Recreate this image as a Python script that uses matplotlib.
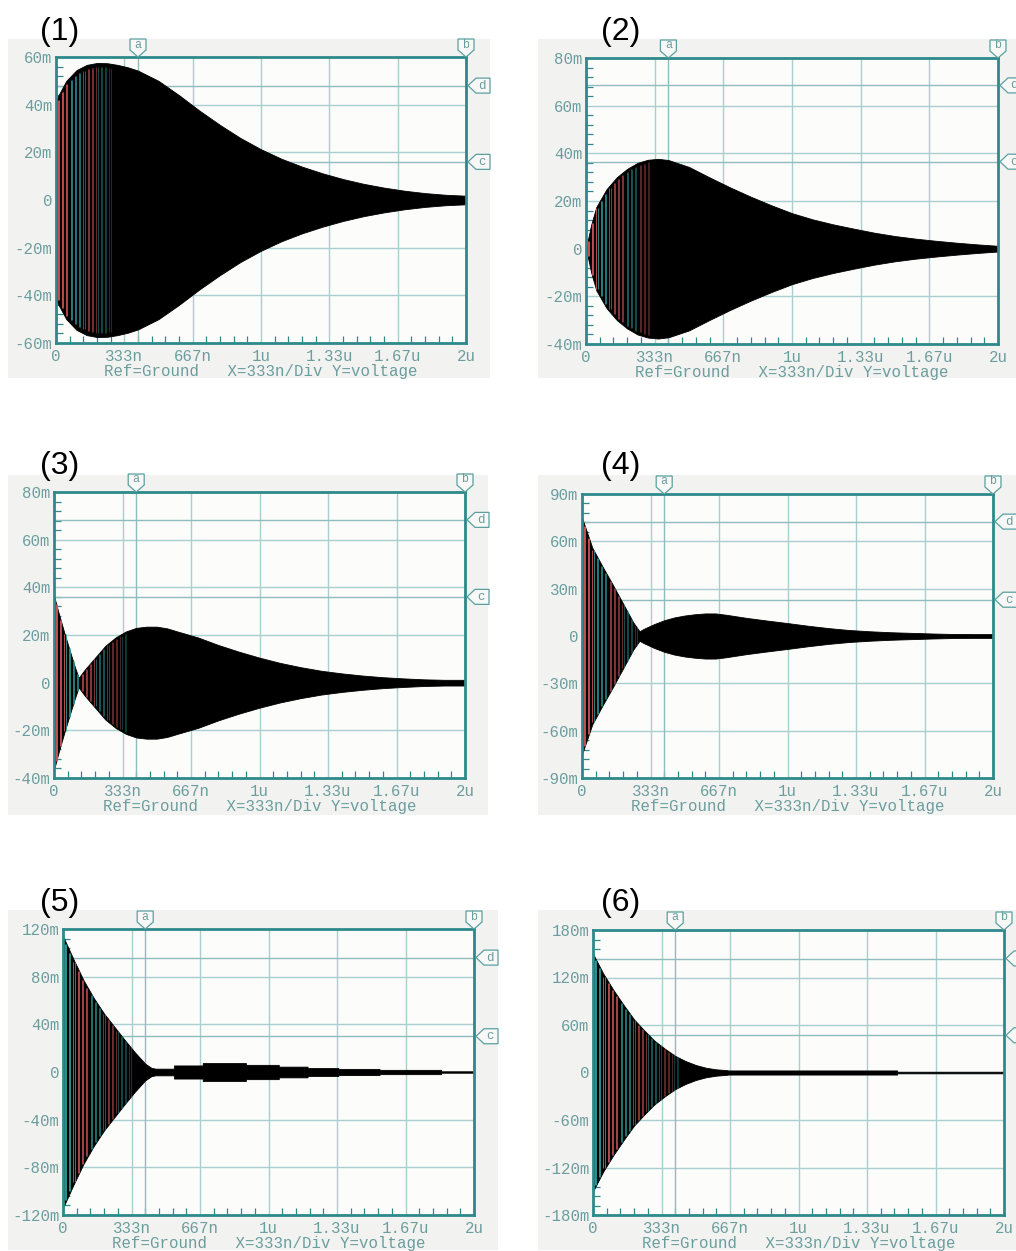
import numpy as np
import matplotlib
matplotlib.use("Agg")
import matplotlib.pyplot as plt
from matplotlib.patches import Polygon, Rectangle
from matplotlib.ticker import FixedLocator, MultipleLocator
from matplotlib.transforms import IdentityTransform
from matplotlib.collections import LineCollection

# ---------------- data (time in µs, amplitude envelope in mV) ----------------
x_ticks = [0, 1 / 3, 2 / 3, 1, 4 / 3, 5 / 3, 2]
x_tick_labels = ["0", "333n", "667n", "1u", "1.33u", "1.67u", "2u"]
axis_caption = "Ref=Ground   X=333n/Div Y=voltage"
panel_names = ["(1)", "(2)", "(3)", "(4)", "(5)", "(6)"]

t1 = [0, 0.05, 0.1, 0.15, 0.2, 0.25, 0.3, 0.35, 0.4, 0.5, 0.6, 0.7, 0.8, 0.9, 1.0,
      1.1, 1.2, 1.3, 1.4, 1.5, 1.6, 1.7, 1.8, 1.9, 2.0]
a1 = [42, 50, 54.5, 56.7, 57.5, 57.4, 56.7, 55.7, 54.3, 50, 44, 37.5, 31.5, 26, 21.3,
      17.3, 14, 11.2, 8.8, 6.8, 5.2, 3.9, 2.9, 2.2, 1.8]

t2 = [0, 0.025, 0.05, 0.1, 0.15, 0.2, 0.25, 0.3, 0.35, 0.4, 0.5, 0.6, 0.7, 0.8, 0.9,
      1.0, 1.1, 1.2, 1.3, 1.4, 1.5, 1.6, 1.7, 1.8, 1.9, 2.0]
a2 = [0, 10, 17.5, 25, 30, 33.5, 36, 37.3, 37.7, 37.2, 34.3, 29.9, 25.7, 21.8, 18.2,
      14.9, 12.3, 10.2, 8.4, 6.7, 5.3, 4.2, 3.3, 2.5, 1.8, 1.2]

t3 = [0, 0.02, 0.05, 0.08, 0.1, 0.12, 0.15, 0.2, 0.25, 0.3, 0.35, 0.4, 0.45, 0.5, 0.55,
      0.6, 0.7, 0.8, 0.9, 1.0, 1.1, 1.2, 1.3, 1.4, 1.5, 1.6, 1.7, 1.8, 1.9, 2.0]
a3 = [36.5, 30, 21, 12.5, 7, 2, 5.5, 10.5, 15.5, 19, 21.5, 23, 23.5, 23.5, 22.8,
      21.5, 19, 15.8, 13, 10.5, 8.3, 6.5, 5, 3.9, 3, 2.3, 1.8, 1.4, 1.2, 1.2]

t4 = [0, 0.05, 0.1, 0.15, 0.2, 0.25, 0.28, 0.3, 0.35, 0.4, 0.45, 0.5, 0.55, 0.6, 0.65,
      0.7, 0.8, 0.9, 1.0, 1.1, 1.2, 1.3, 1.4, 1.5, 1.6, 1.7, 1.8, 1.9, 2.0]
a4 = [75, 56, 44, 32.5, 20.5, 8.5, 3, 4.5, 7.5, 10, 11.8, 13, 13.8, 14.3, 14.3,
      13.5, 11.5, 9.8, 8.2, 6.5, 5, 3.8, 3, 2.4, 2, 1.6, 1.3, 1.2, 1.2]

t5 = [0, 0.05, 0.1, 0.15, 0.2, 0.25, 0.3, 0.35, 0.4, 0.43, 0.45, 0.54, 0.54, 0.68,
      0.68, 0.89, 0.89, 1.05, 1.05, 1.19, 1.19, 1.34, 1.34, 1.54, 1.54, 1.84, 1.84, 2.0]
a5 = [114, 95, 77, 62, 49, 38, 27, 16.5, 7, 3.5, 2.8, 2.8, 5.5, 5.5,
      7.5, 7.5, 6, 6, 4.5, 4.5, 3.3, 3.3, 2.6, 2.6, 1.8, 1.8, 0.6, 0.6]

t6 = [0, 0.05, 0.1, 0.15, 0.2, 0.25, 0.3, 0.35, 0.4, 0.45, 0.5, 0.55, 0.6, 0.65,
      0.66, 1.48, 1.48, 2.0]
a6 = [150, 125, 104, 85, 67, 53, 40, 30, 21, 14.5, 9.5, 6, 4, 3,
      2.6, 2.6, 1, 1]

times = [t1, t2, t3, t4, t5, t6]
envelopes = [a1, a2, a3, a4, a5, a6]

y_lows = [-60, -40, -40, -90, -120, -180]
y_highs = [60, 80, 80, 90, 120, 180]
y_steps = [20, 20, 20, 30, 40, 60]

cursor_a = [0.4, 0.4, 0.4, 0.4, 0.4, 0.4]
cursor_b = [2.0, 2.0, 2.0, 2.0, 2.0, 2.0]
cursor_c = [16, 36.5, 36, 23, 30, 47]
cursor_d = [48, 68.5, 68.3, 72.5, 96, 144]
stripe_end = [0.27, 0.31, 0.35, 0.28, 0.34, 0.42]

# ---------------- layout (image pixels) ----------------
W, H = 1016, 1251
frames = [(56, 57, 466, 343), (586, 58, 998, 344),
          (54, 492, 465, 778), (582, 494, 993, 778),
          (63, 929, 474, 1215), (593, 930, 1004, 1215)]
backs = [(8, 39, 490, 378), (538, 39, 1016, 378),
         (8, 475, 488, 815), (538, 475, 1016, 815),
         (8, 910, 498, 1250), (538, 910, 1016, 1250)]
name_pos = [(40, 32), (601, 32), (40, 466), (601, 466), (40, 903), (601, 903)]

frame_color = "#2e8a8a"
grid_color = "#a9cfcf"
label_color = "#6c9d9e"
outer_bg = "#f2f3f1"
inner_bg = "#fcfcfb"
mono = "Liberation Mono"

fig = plt.figure(figsize=(W / 100, H / 100), dpi=100)
fig.patch.set_facecolor("white")


def disp(x, y):
    """image px (y down) -> display px (y up)"""
    return (x, H - y)


for i in range(6):
    bl, bt, br, bb = backs[i]
    fig.add_artist(Rectangle((bl / W, 1 - bb / H), (br - bl) / W, (bb - bt) / H,
                             transform=fig.transFigure, facecolor=outer_bg,
                             edgecolor="none", zorder=-5))
    l, t, r, b = frames[i]
    ax = fig.add_axes([l / W, 1 - b / H, (r - l) / W, (b - t) / H])
    ax.set_facecolor(inner_bg)
    ax.set_xlim(0, 2)
    ax.set_ylim(y_lows[i], y_highs[i])
    ax.set_axisbelow(True)

    yt = list(range(y_lows[i], y_highs[i] + 1, y_steps[i]))
    ylabels = ["0" if v == 0 else f"{v}m" for v in yt]
    ax.yaxis.set_major_locator(FixedLocator(yt))
    ax.set_yticklabels(ylabels)
    ax.yaxis.set_minor_locator(MultipleLocator(y_steps[i] / 5))
    ax.xaxis.set_major_locator(FixedLocator(x_ticks))
    ax.set_xticklabels(x_tick_labels)
    ax.xaxis.set_minor_locator(MultipleLocator(2 / 30))

    ax.grid(True, which="major", color=grid_color, lw=1.0)
    ax.tick_params(which="major", length=0, labelsize=11.3, labelcolor=label_color)
    ax.tick_params(axis="y", which="major", pad=2.5)
    ax.tick_params(axis="x", which="major", pad=4)
    ax.tick_params(which="minor", direction="in", length=5, width=0.9,
                   color=frame_color)
    for lab in ax.get_xticklabels() + ax.get_yticklabels():
        lab.set_fontfamily(mono)
    ax.set_xlabel(axis_caption, fontfamily=mono, fontsize=11.3,
                  color=label_color, labelpad=0)
    for sp in ax.spines.values():
        sp.set_color(frame_color)
        sp.set_linewidth(2.0)

    # cursor lines
    ax.axvline(cursor_a[i], color="#8fbdbd", lw=1.0, zorder=0.6)
    ax.axhline(cursor_c[i], color="#8fbdbd", lw=1.0, zorder=0.6)
    ax.axhline(cursor_d[i], color="#8fbdbd", lw=1.0, zorder=0.6)

    # oscillation envelope
    tt = np.array(times[i])
    aa = np.array(envelopes[i])
    ax.fill_between(tt, -aa, aa, color="black", lw=0.6, zorder=1)

    # resolved individual cycles near the start
    st = np.arange(0.008, stripe_end[i], 0.021)
    amp = np.interp(st, tt, aa)
    segs, cols = [], []
    for k, (s, h) in enumerate(zip(st, amp)):
        fade = 1 - 0.65 * s / stripe_end[i]
        segs.append([(s, -h * 0.97), (s, h * 0.97)])
        cols.append((0.86, 0.36, 0.36, fade))
        segs.append([(s + 0.006, -h * 0.97), (s + 0.006, h * 0.97)])
        cols.append((0.17, 0.62, 0.62, fade))
    ax.add_collection(LineCollection(segs, colors=cols, linewidths=0.65, zorder=1.2))

    # cursor flags
    xa = ax.transData.transform((cursor_a[i], 0))[0]
    xb = ax.transData.transform((cursor_b[i], 0))[0]
    for xc, name in [(xa, "a"), (xb, "b")]:
        pts = [disp(xc - 8, t - 18), disp(xc + 8, t - 18), disp(xc + 8, t - 7),
               disp(xc, t), disp(xc - 8, t - 7)]
        fig.add_artist(Polygon(pts, closed=True, transform=IdentityTransform(),
                               facecolor="#f8f8f6", edgecolor="#5aa0a0", lw=0.9,
                               zorder=5))
        fig.text(xc, H - (t - 12.5), name, transform=IdentityTransform(),
                 ha="center", va="center", fontsize=8.5, fontfamily=mono,
                 color=label_color, zorder=6)
    for yv, name in [(cursor_c[i], "c"), (cursor_d[i], "d")]:
        yc = H - ax.transData.transform((0, yv))[1]
        pts = [disp(r + 2, yc), disp(r + 10, yc - 7.5), disp(r + 24, yc - 7.5),
               disp(r + 24, yc + 7.5), disp(r + 10, yc + 7.5)]
        fig.add_artist(Polygon(pts, closed=True, transform=IdentityTransform(),
                               facecolor="#f8f8f6", edgecolor="#5aa0a0", lw=0.9,
                               zorder=5))
        if r + 16 < W:
            fig.text(r + 16, H - yc, name, transform=IdentityTransform(),
                     ha="center", va="center", fontsize=9, fontfamily=mono,
                     color=label_color, zorder=6)

    nx, ny = name_pos[i]
    fig.text(nx / W, 1 - ny / H, panel_names[i], ha="left", va="center",
             fontsize=23, fontfamily="Liberation Sans", color="black")

fig.savefig("out.png", dpi=100, facecolor="white")
